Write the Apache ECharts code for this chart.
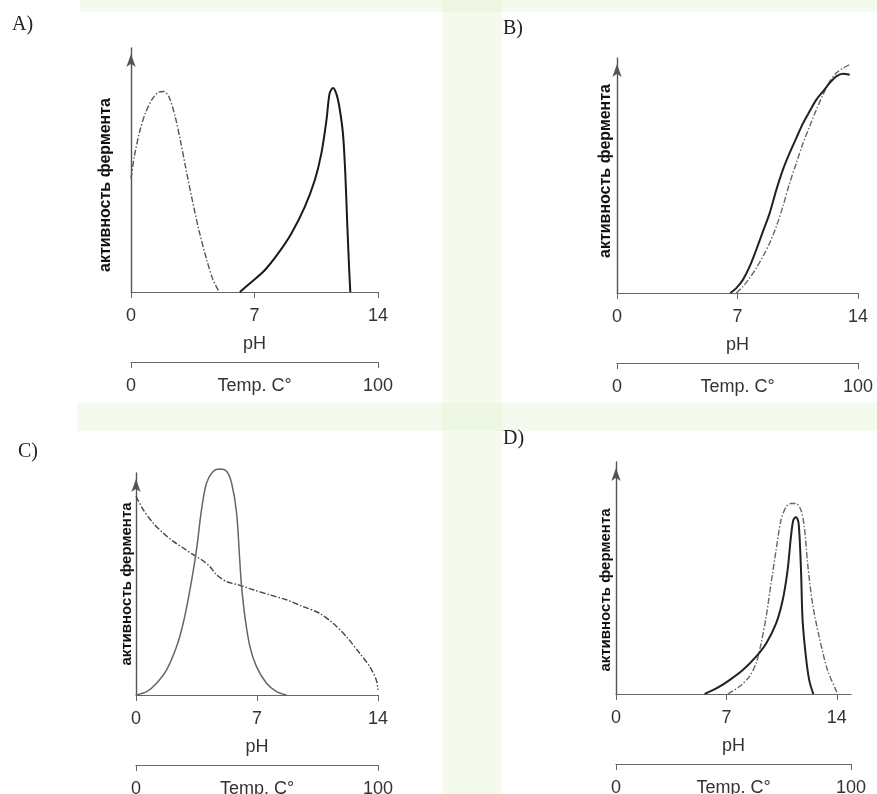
<!DOCTYPE html>
<html>
<head>
<meta charset="utf-8">
<script src="https://cdn.jsdelivr.net/npm/echarts@6/dist/echarts.min.js"></script>
<style>
html, body { margin: 0; padding: 0; background: #fff; }
#chart { width: 877px; height: 794px; }
</style>
</head>
<body>
<div id="chart"></div>
<script>
// pH ticks and temperature ticks, shared by all four panels
let phTicks = [0, 7, 14];
let tempTicks = [0, 100];
let yName = 'активность фермента';

// A) curves: [pH, activity]
let aDash = [[0, 46.6], [0.2, 56], [0.5, 66], [0.8, 73], [1.2, 79], [1.55, 81.8], [1.85, 82.2], [2.15, 80], [2.5, 72], [2.8, 62], [3.1, 51], [3.45, 38.5], [3.85, 25.3], [4.3, 13], [4.65, 5], [5.0, 0]];
let aSolid = [[6.17, 0], [6.83, 4.1], [7.58, 8.9], [8.34, 15.8], [9.09, 24.0], [9.85, 34.9], [10.42, 45.9], [10.79, 56.8], [11.08, 70.5], [11.26, 81.5], [11.45, 83.6], [11.65, 81], [11.83, 75], [12.02, 64.4], [12.15, 48], [12.26, 27.4], [12.36, 10.3], [12.43, 0]];

// B)
let bDash = [[6.93, 0], [7.32, 2.8], [7.71, 6.4], [8.09, 10.6], [8.48, 15.6], [8.87, 21.3], [9.26, 28.4], [9.64, 36.9], [10.03, 46.8], [10.42, 55.3], [10.81, 63.8], [11.19, 70.9], [11.58, 78.0], [11.97, 84.4], [12.36, 90.1], [12.74, 93.6], [13.13, 95.7], [13.52, 97.2]];
let bSolid = [[6.58, 0], [6.93, 2.1], [7.32, 5.7], [7.71, 11.3], [8.09, 18.4], [8.48, 26.2], [8.87, 34.0], [9.26, 44.0], [9.64, 52.5], [10.03, 59.6], [10.42, 66.0], [10.81, 72.3], [11.19, 77.3], [11.58, 82.3], [11.97, 85.8], [12.36, 89.4], [12.74, 92.2], [13.13, 93.3], [13.52, 92.9]];

// C)
let cDash = [[0, 89.5], [0.42, 83.5], [1.0, 77.4], [1.58, 72.9], [2.16, 69.2], [2.73, 66.2], [3.31, 63.2], [3.79, 60.9], [4.27, 57.9], [4.66, 54.1], [5.24, 51.1], [5.93, 49.6], [6.78, 47.4], [7.74, 45.1], [8.7, 42.9], [9.67, 39.8], [10.62, 36.8], [11.4, 32.3], [12.17, 26.3], [12.94, 18.8], [13.52, 12.8], [13.9, 6.8], [14.0, 2.3]];
let cSolid = [[0, 0], [0.62, 1.5], [1.19, 5.3], [1.77, 11.3], [2.35, 21.8], [2.73, 32.3], [3.12, 47.4], [3.5, 65.4], [3.79, 83.5], [4.08, 95.5], [4.47, 100.8], [4.85, 101.8], [5.24, 100.8], [5.53, 95.5], [5.82, 82], [6.0, 60.9], [6.1, 49.6], [6.3, 35.3], [6.59, 21.8], [6.97, 12.8], [7.55, 5.3], [8.13, 1.5], [8.7, 0]];

// D)
let dDash = [[7.09, 0], [7.83, 3.2], [8.46, 7.5], [8.88, 13.2], [9.2, 21.8], [9.52, 33.3], [9.83, 47.6], [10.15, 62.0], [10.46, 74.9], [10.78, 80.6], [11.09, 82.1], [11.41, 82.1], [11.73, 79.2], [11.94, 72.0], [12.15, 56.2], [12.46, 39.0], [12.88, 24.7], [13.41, 10.3], [13.94, 1.7], [14.04, 0]];
let dSolid = [[5.62, 0], [6.36, 2.4], [7.2, 6.0], [8.04, 10.3], [8.88, 16.1], [9.52, 21.8], [10.15, 30.4], [10.57, 40.5], [10.88, 53.4], [11.09, 67.7], [11.24, 74.9], [11.41, 76.3], [11.58, 73.5], [11.73, 53.4], [11.83, 31.9], [12.04, 16.1], [12.25, 6.0], [12.51, 0]];

// layout of the four panels
let panels = [
    { title: 'A)', tx: 12, ty: 15, left: 131, top: 48, width: 247, height: 244, phMax: 14, dash: aDash, solid: aSolid,
      nameGap: 17, namePad: [0, 30, 0, 0], nameSize: 16, solidColor: '#1a1a1a', solidWidth: 2, dashColor: '#555' },
    { title: 'B)', tx: 503, ty: 19, left: 617, top: 58, width: 241, height: 235, phMax: 14, dash: bDash, solid: bSolid,
      nameGap: 3, namePad: [0, 0, 0, 9], nameSize: 16, solidColor: '#222', solidWidth: 2, dashColor: '#666' },
    { title: 'C)', tx: 18, ty: 442, left: 136, top: 473, width: 242, height: 222, phMax: 14, dash: cDash, solid: cSolid,
      nameGap: 2, namePad: [0, 0, 0, 0], nameSize: 15, solidColor: '#666', solidWidth: 1.5, dashColor: '#444' },
    { title: 'D)', tx: 503, ty: 429, left: 616, top: 462, width: 235, height: 232, phMax: 14.9, dash: dDash, solid: dSolid,
      nameGap: 3, namePad: [0, 24, 0, 0], nameSize: 15, solidColor: '#222', solidWidth: 2, dashColor: '#666' }
];

let labelFont = '"Liberation Sans", Arial, sans-serif';
let axisColor = '#666';

let grids = [], xAxes = [], yAxes = [], series = [];
let graphics = [
    // faint green background of the scanned page
    { type: 'rect', z: -10, shape: { x: 442, y: 0, width: 60, height: 794 }, style: { fill: 'rgba(226,240,205,0.35)' } },
    { type: 'rect', z: -10, shape: { x: 80, y: 0, width: 797, height: 12 }, style: { fill: 'rgba(226,240,205,0.35)' } },
    { type: 'rect', z: -10, shape: { x: 77, y: 403, width: 800, height: 28 }, style: { fill: 'rgba(226,240,205,0.35)' } }
];

panels.forEach(function (p, i) {
    grids.push({ left: p.left, top: p.top, width: p.width, height: p.height, containLabel: false, outerBoundsMode: 'none' });

    xAxes.push({
        gridIndex: i,
        type: 'value',
        min: 0,
        max: p.phMax,
        axisLine: { lineStyle: { color: axisColor, width: 1.2 } },
        axisTick: { customValues: phTicks, length: 6, lineStyle: { color: axisColor } },
        axisLabel: { customValues: phTicks, fontSize: 18, color: '#333', fontFamily: labelFont, margin: 15 },
        splitLine: { show: false },
        name: 'pH',
        nameLocation: 'middle',
        nameGap: 43,
        nameMoveOverlap: false,
        nameTextStyle: { fontSize: 18, color: '#333', fontFamily: labelFont }
    });

    // temperature scale under the pH axis
    xAxes.push({
        gridIndex: i,
        type: 'value',
        position: 'bottom',
        offset: 70,
        min: 0,
        max: 100,
        interval: 100,
        axisLine: { lineStyle: { color: axisColor, width: 1.2 } },
        axisTick: { customValues: tempTicks, length: 6, lineStyle: { color: axisColor } },
        axisLabel: { customValues: tempTicks, fontSize: 18, color: '#333', fontFamily: labelFont, margin: 15 },
        splitLine: { show: false },
        name: 'Temp. C°',
        nameLocation: 'middle',
        nameGap: 15,
        nameMoveOverlap: false,
        nameTextStyle: { fontSize: 18, color: '#333', fontFamily: labelFont }
    });

    yAxes.push({
        gridIndex: i,
        type: 'value',
        min: 0,
        max: 100,
        axisLine: {
            show: true,
            symbol: ['none', 'arrow'],
            symbolSize: [7, 13],
            symbolOffset: [0, -6],
            lineStyle: { color: '#555', width: 1.4 }
        },
        axisTick: { show: false },
        axisLabel: { show: false },
        splitLine: { show: false },
        name: yName,
        nameLocation: 'middle',
        nameRotate: 90,
        nameGap: p.nameGap,
        nameMoveOverlap: false,
        nameTextStyle: { fontSize: p.nameSize, fontWeight: 'bold', color: '#111', fontFamily: labelFont, padding: p.namePad }
    });

    series.push({
        type: 'line',
        xAxisIndex: i * 2,
        yAxisIndex: i,
        data: p.dash,
        smooth: 0.3,
        symbol: 'none',
        clip: false,
        lineStyle: { color: p.dashColor, width: 1.4, type: [6, 2, 1.5, 2] }
    });
    series.push({
        type: 'line',
        xAxisIndex: i * 2,
        yAxisIndex: i,
        data: p.solid,
        smooth: 0.3,
        symbol: 'none',
        clip: false,
        lineStyle: { color: p.solidColor, width: p.solidWidth }
    });

    graphics.push({
        type: 'text',
        left: p.tx,
        top: p.ty,
        style: { text: p.title, font: '20px "Liberation Serif", "Times New Roman", serif', fill: '#222' }
    });
});

let chart = echarts.init(document.getElementById('chart'));
chart.setOption({
    backgroundColor: '#fff',
    animation: false,
    grid: grids,
    xAxis: xAxes,
    yAxis: yAxes,
    series: series,
    graphic: graphics
});
</script>
</body>
</html>
